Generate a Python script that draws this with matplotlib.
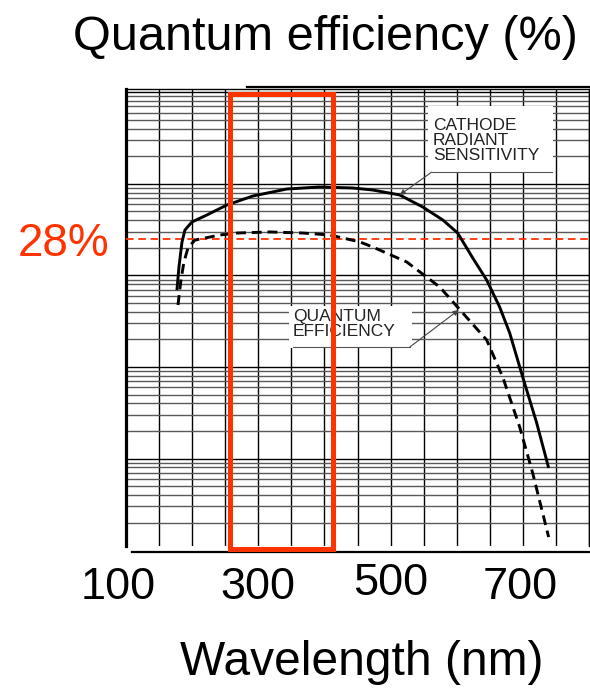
import matplotlib
matplotlib.use('Agg')
import matplotlib.pyplot as plt
from matplotlib.patches import Rectangle
from matplotlib.transforms import blended_transform_factory, ScaledTranslation
from matplotlib.ticker import FixedLocator, LogLocator, NullFormatter, FixedFormatter
from matplotlib.lines import Line2D

plt.rcParams['font.family'] = ['Liberation Sans', 'DejaVu Sans']

# ---------------- data ----------------
sens_wl = [177.0, 180.1, 184.6, 189.1, 199.7, 222.4, 252.6, 291.8, 343.2, 393.1, 442.9,
           473.1, 513.9, 548.6, 578.9, 601.5, 624.2, 645.3, 665.0, 680.1, 699.7, 720.9, 739.0]
sens_val = [6.9, 12.4, 23.0, 31.3, 38.3, 45.7, 58.7, 73.6, 87.7, 92.3, 90.0,
            85.5, 75.5, 55.8, 40.3, 29.0, 15.5, 8.9, 4.5, 2.35, 0.78, 0.245, 0.079]

qe_wl = [178.6, 183.1, 187.6, 193.7, 204.2, 242.0, 267.7, 317.5, 367.4, 408.2, 453.5,
         473.1, 524.5, 574.3, 609.1, 645.3, 669.5, 695.2, 714.8, 739.0]
qe_val = [4.75, 8.9, 14.0, 19.9, 24.3, 27.6, 29.0, 29.8, 29.0, 27.6, 23.2,
          20.4, 14.0, 7.47, 3.89, 1.97, 0.778, 0.221, 0.0697, 0.0139]

ref_level = 24.9          # red dashed reference line (labelled 28%)
band_wl = [257, 413]      # highlighted wavelength band
tick_wl = [100, 300, 500, 700]
tick_labels = ['100', '300', '500', '700']
grid_wl = list(range(100, 801, 50))

RED = '#ff3300'

fig = plt.figure(figsize=(5.9, 6.93), dpi=100)
ax = fig.add_axes([126 / 590, 1 - 546 / 693, 463 / 590, 457 / 693])

ax.set_yscale('log')
ax.set_xlim(100, 800)
ax.set_ylim(0.0111, 1084)

# grid
ax.xaxis.set_major_locator(FixedLocator(tick_wl))
ax.xaxis.set_major_formatter(FixedFormatter(tick_labels))
ax.xaxis.set_minor_locator(FixedLocator(grid_wl))
ax.yaxis.set_major_locator(LogLocator(base=10, subs=(1.0,)))
ax.yaxis.set_minor_locator(LogLocator(base=10, subs=(2, 3, 4, 5, 6, 7, 8, 9)))
ax.yaxis.set_major_formatter(NullFormatter())
ax.yaxis.set_minor_formatter(NullFormatter())
ax.grid(True, which='both', axis='x', color='black', lw=1.0)
ax.grid(True, which='major', axis='y', color='black', lw=1.0)
ax.grid(True, which='minor', axis='y', color='0.35', lw=1.0)
ax.set_axisbelow(True)

ax.tick_params(axis='both', which='both', length=0)
ax.tick_params(axis='x', labelsize=32.5, pad=11)

# spines
ax.spines['left'].set_linewidth(2.3)
ax.spines['bottom'].set_linewidth(1.6)
ax.spines['bottom'].set_position(('outward', 4))
ax.spines['bottom'].set_bounds(109, 800)
ax.spines['top'].set_linewidth(1.0)
ax.spines['right'].set_linewidth(1.0)
trans_top = blended_transform_factory(ax.transData, ax.transAxes)
ax.add_line(Line2D([283, 800], [1.004, 1.004], transform=trans_top, color='black',
                   lw=1.6, clip_on=False))

# tick label fine offsets
labs = ax.get_xticklabels()
offsets = [(-8, 0), (0, 0), (0, 4), (-3, 0)]
for lab, (dx, dy) in zip(labs, offsets):
    lab.set_transform(lab.get_transform() + ScaledTranslation(dx / 100, dy / 100, fig.dpi_scale_trans))

# curves
ax.plot(sens_wl, sens_val, color='black', lw=2.1, solid_capstyle='butt',
        solid_joinstyle='round', zorder=4)
ax.plot(qe_wl, qe_val, color='black', lw=2.1, linestyle=(0, (3.4, 2.0)), zorder=4)

# red reference line and label
ax.axhline(ref_level, color=RED, lw=1.3, linestyle=(0, (4.2, 2.6)), zorder=3)
trans_ref = blended_transform_factory(ax.transAxes, ax.transData)
ax.text(-0.035, ref_level, '28%', transform=trans_ref, ha='right', va='center_baseline',
        fontsize=33, color=RED)

# red band rectangle
ax.add_patch(Rectangle((band_wl[0], -0.006), band_wl[1] - band_wl[0], 0.995,
                       transform=trans_top, fill=False, edgecolor=RED, lw=3.6,
                       clip_on=False, zorder=6))

# annotation: cathode radiant sensitivity
ax.add_patch(Rectangle((556, 134), 745 - 556, 700 - 134, facecolor='white',
                       edgecolor='none', zorder=2.5))
ax.text(564, 520, 'CATHODE\nRADIANT\nSENSITIVITY', ha='left', va='top', fontsize=12.5,
        linespacing=1.0, color='#222222', zorder=5)
ax.plot([562, 744], [134, 134], color='#555555', lw=0.8, zorder=5)
ax.annotate('', xy=(513.9, 75.5), xytext=(562, 134),
            arrowprops=dict(arrowstyle='-|>', color='#444444', lw=0.8,
                            mutation_scale=8, shrinkA=0, shrinkB=0), zorder=5)

# annotation: quantum efficiency
ax.add_patch(Rectangle((346, 1.62), 533 - 346, 4.6 - 1.62, facecolor='white',
                       edgecolor='none', zorder=2.5))
ax.text(352, 4.3, 'QUANTUM\nEFFICIENCY', ha='left', va='top', fontsize=12.5,
        linespacing=1.0, color='#222222', zorder=5)
ax.plot([352, 529], [1.65, 1.65], color='#555555', lw=0.8, zorder=5)
ax.annotate('', xy=(603, 4.19), xytext=(529, 1.65),
            arrowprops=dict(arrowstyle='-|>', color='#444444', lw=0.8,
                            mutation_scale=8, shrinkA=0, shrinkB=0), zorder=5)

# titles
ax.set_title('Quantum efficiency (%)', fontsize=35, x=0.43, y=1.085, pad=0)
ax.set_xlabel('Wavelength (nm)', fontsize=34.5)
ax.xaxis.set_label_coords(0.51, -0.205)

fig.savefig('out.png', dpi=100)
